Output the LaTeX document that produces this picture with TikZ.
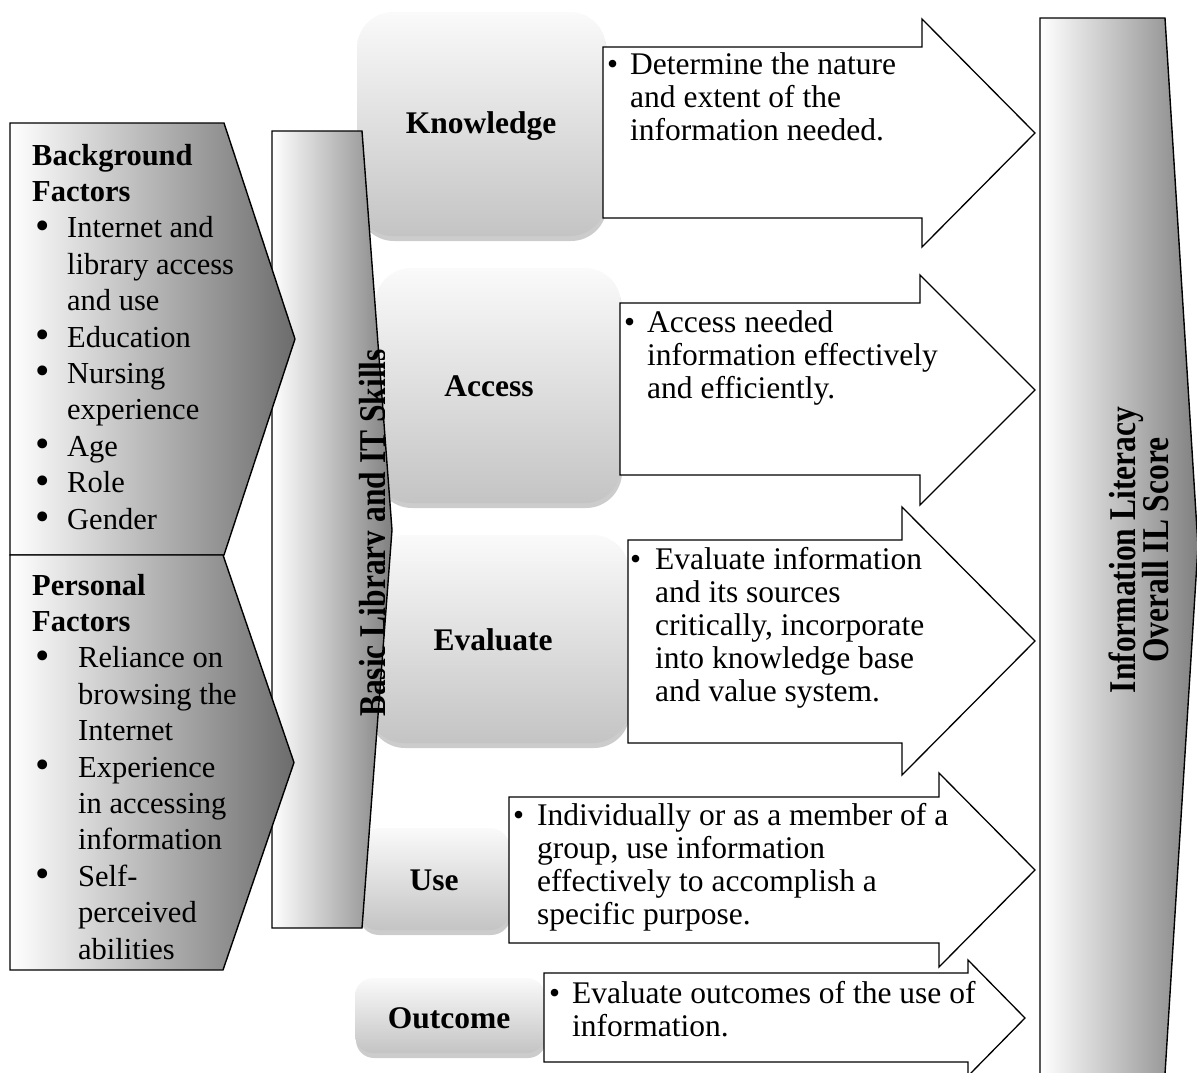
\documentclass[tikz,border=0pt]{standalone}
\usepackage{fontspec}
\setmainfont{Liberation Serif}
\usepackage{graphicx}
\usetikzlibrary{shadows}
\definecolor{chevdark}{RGB}{108,108,108}
\definecolor{bardark}{RGB}{128,128,128}
\definecolor{boxtop}{RGB}{250,250,250}
\definecolor{boxbot}{RGB}{196,196,196}
\newcommand{\bigbul}{\smash{\raisebox{-1.5pt}{\scalebox{1.35}{•}}}}
\newcommand{\tallbox}[1]{\scalebox{1}[1.2]{#1}}
\tikzset{
  chev/.style={draw=black, line width=1.4pt, left color=white, right color=chevdark},
  vbar/.style={draw=black, line width=1.4pt, left color=white, right color=bardark},
  arrowbox/.style={draw=black, line width=1.3pt, fill=white},
  stagebox/.style={top color=boxtop, bottom color=boxbot, draw=none,
    drop shadow={shadow xshift=1pt, shadow yshift=-5pt, opacity=0.2, fill=black}},
  txt/.style={font=\fontsize{31.5}{33}\selectfont, inner sep=0pt, anchor=base west},
  lefttxt/.style={font=\fontsize{30.5}{36.4}\selectfont, inner sep=0pt, anchor=base west},
  lbl/.style={font=\fontsize{31.5}{33}\selectfont\bfseries, inner sep=0pt, anchor=base},
}
\begin{document}
\begin{tikzpicture}[x=1pt,y=-1pt]
\useasboundingbox (0,0) rectangle (1197,1072);
\clip (0,0) rectangle (1197,1072);

% stage boxes
\path[stagebox, rounded corners=36pt] (357,12) rectangle (606,236);
\path[stagebox, rounded corners=36pt] (375,268) rectangle (621,503);
\path[stagebox, rounded corners=36pt] (368,535) rectangle (629,743);
\path[stagebox, rounded corners=20pt] (358,828) rectangle (510,930);
\path[stagebox, rounded corners=18pt] (355,978) rectangle (545,1053);

\node[lbl] (knowledge) at (481,133) {Knowledge};
\node[lbl] (access) at (489,396) {Access};
\node[lbl] (evaluate) at (493,650) {Evaluate};
\node[lbl] (use) at (434,890) {Use};
\node[lbl] (outcome) at (449,1028) {Outcome};

% basic library bar
\path[vbar] (272,131) -- (362,131) -- (392,530) -- (362,928) -- (272,928) -- cycle;
\begin{scope}
  \clip (272,131) rectangle (384,928);
  \node[lbl, rotate=90] (basic) at (385,533) {\tallbox{Basic Library and IT Skills}};
\end{scope}

% chevrons
\path[chev] (10,123) -- (224,123) -- (295,339) -- (224,555) -- (10,555) -- cycle;
\path[chev] (10,555) -- (223,555) -- (294,762.5) -- (223,970) -- (10,970) -- cycle;

\node[lefttxt] (bg) at (32,165) {\parbox[t]{260pt}{%
\textbf{Background}\\
\textbf{Factors}\\
\hspace*{3pt}\makebox[32pt][l]{\bigbul}Internet and\\
\hspace*{35pt}library access\\
\hspace*{35pt}and use\\
\hspace*{3pt}\makebox[32pt][l]{\bigbul}Education\\
\hspace*{3pt}\makebox[32pt][l]{\bigbul}Nursing\\
\hspace*{35pt}experience\\
\hspace*{3pt}\makebox[32pt][l]{\bigbul}Age\\
\hspace*{3pt}\makebox[32pt][l]{\bigbul}Role\\
\hspace*{3pt}\makebox[32pt][l]{\bigbul}Gender}};

\node[lefttxt] (pf) at (32,595) {\parbox[t]{260pt}{%
\textbf{Personal}\\
\textbf{Factors}\\
\hspace*{3pt}\makebox[43pt][l]{\bigbul}Reliance on\\
\hspace*{46pt}browsing the\\
\hspace*{46pt}Internet\\
\hspace*{3pt}\makebox[43pt][l]{\bigbul}Experience\\
\hspace*{46pt}in accessing\\
\hspace*{46pt}information\\
\hspace*{3pt}\makebox[43pt][l]{\bigbul}Self-\\
\hspace*{46pt}perceived\\
\hspace*{46pt}abilities}};

% arrows
\path[arrowbox] (603,47) -- (922,47) -- (922,19) -- (1035,133) -- (922,247) -- (922,218) -- (603,218) -- cycle;
\path[arrowbox] (620,303) -- (920,303) -- (920,275) -- (1035,390) -- (920,505) -- (920,475) -- (620,475) -- cycle;
\path[arrowbox] (628,540) -- (902,540) -- (902,507) -- (1035,641) -- (902,775) -- (902,743) -- (628,743) -- cycle;
\path[arrowbox] (509,797) -- (939,797) -- (939,773) -- (1035,870) -- (939,967) -- (939,943) -- (509,943) -- cycle;
\path[arrowbox] (544,973) -- (968,973) -- (968,960) -- (1025,1018) -- (968,1076) -- (968,1062) -- (544,1062) -- cycle;

\node[txt] (tk) at (607,74) {\parbox[t]{420pt}{%
\makebox[23pt][l]{•}Determine the nature\\
\hspace*{23pt}and extent of the\\
\hspace*{23pt}information needed.}};
\node[txt] (ta) at (624,332) {\parbox[t]{420pt}{%
\makebox[23pt][l]{•}Access needed\\
\hspace*{23pt}information effectively\\
\hspace*{23pt}and efficiently.}};
\node[txt] (te) at (630,569) {\parbox[t]{420pt}{%
\makebox[25pt][l]{•}Evaluate information\\
\hspace*{25pt}and its sources\\
\hspace*{25pt}critically, incorporate\\
\hspace*{25pt}into knowledge base\\
\hspace*{25pt}and value system.}};
\node[txt] (tu) at (513,825) {\parbox[t]{480pt}{%
\makebox[24pt][l]{•}Individually or as a member of a\\
\hspace*{24pt}group, use information\\
\hspace*{24pt}effectively to accomplish a\\
\hspace*{24pt}specific purpose.}};
\node[txt] (to) at (549,1003) {\parbox[t]{480pt}{%
\makebox[23pt][l]{•}Evaluate outcomes of the use of\\
\hspace*{23pt}information.}};

% information literacy bar
\path[vbar] (1040,18) -- (1165,18) -- (1198,546) -- (1165,1074) -- (1040,1074) -- cycle;
\node[lbl, rotate=90] (il1) at (1135,550) {\tallbox{Information Literacy}};
\node[lbl, rotate=90] (il2) at (1168,550) {\tallbox{Overall IL Score}};
\end{tikzpicture}
\end{document}
